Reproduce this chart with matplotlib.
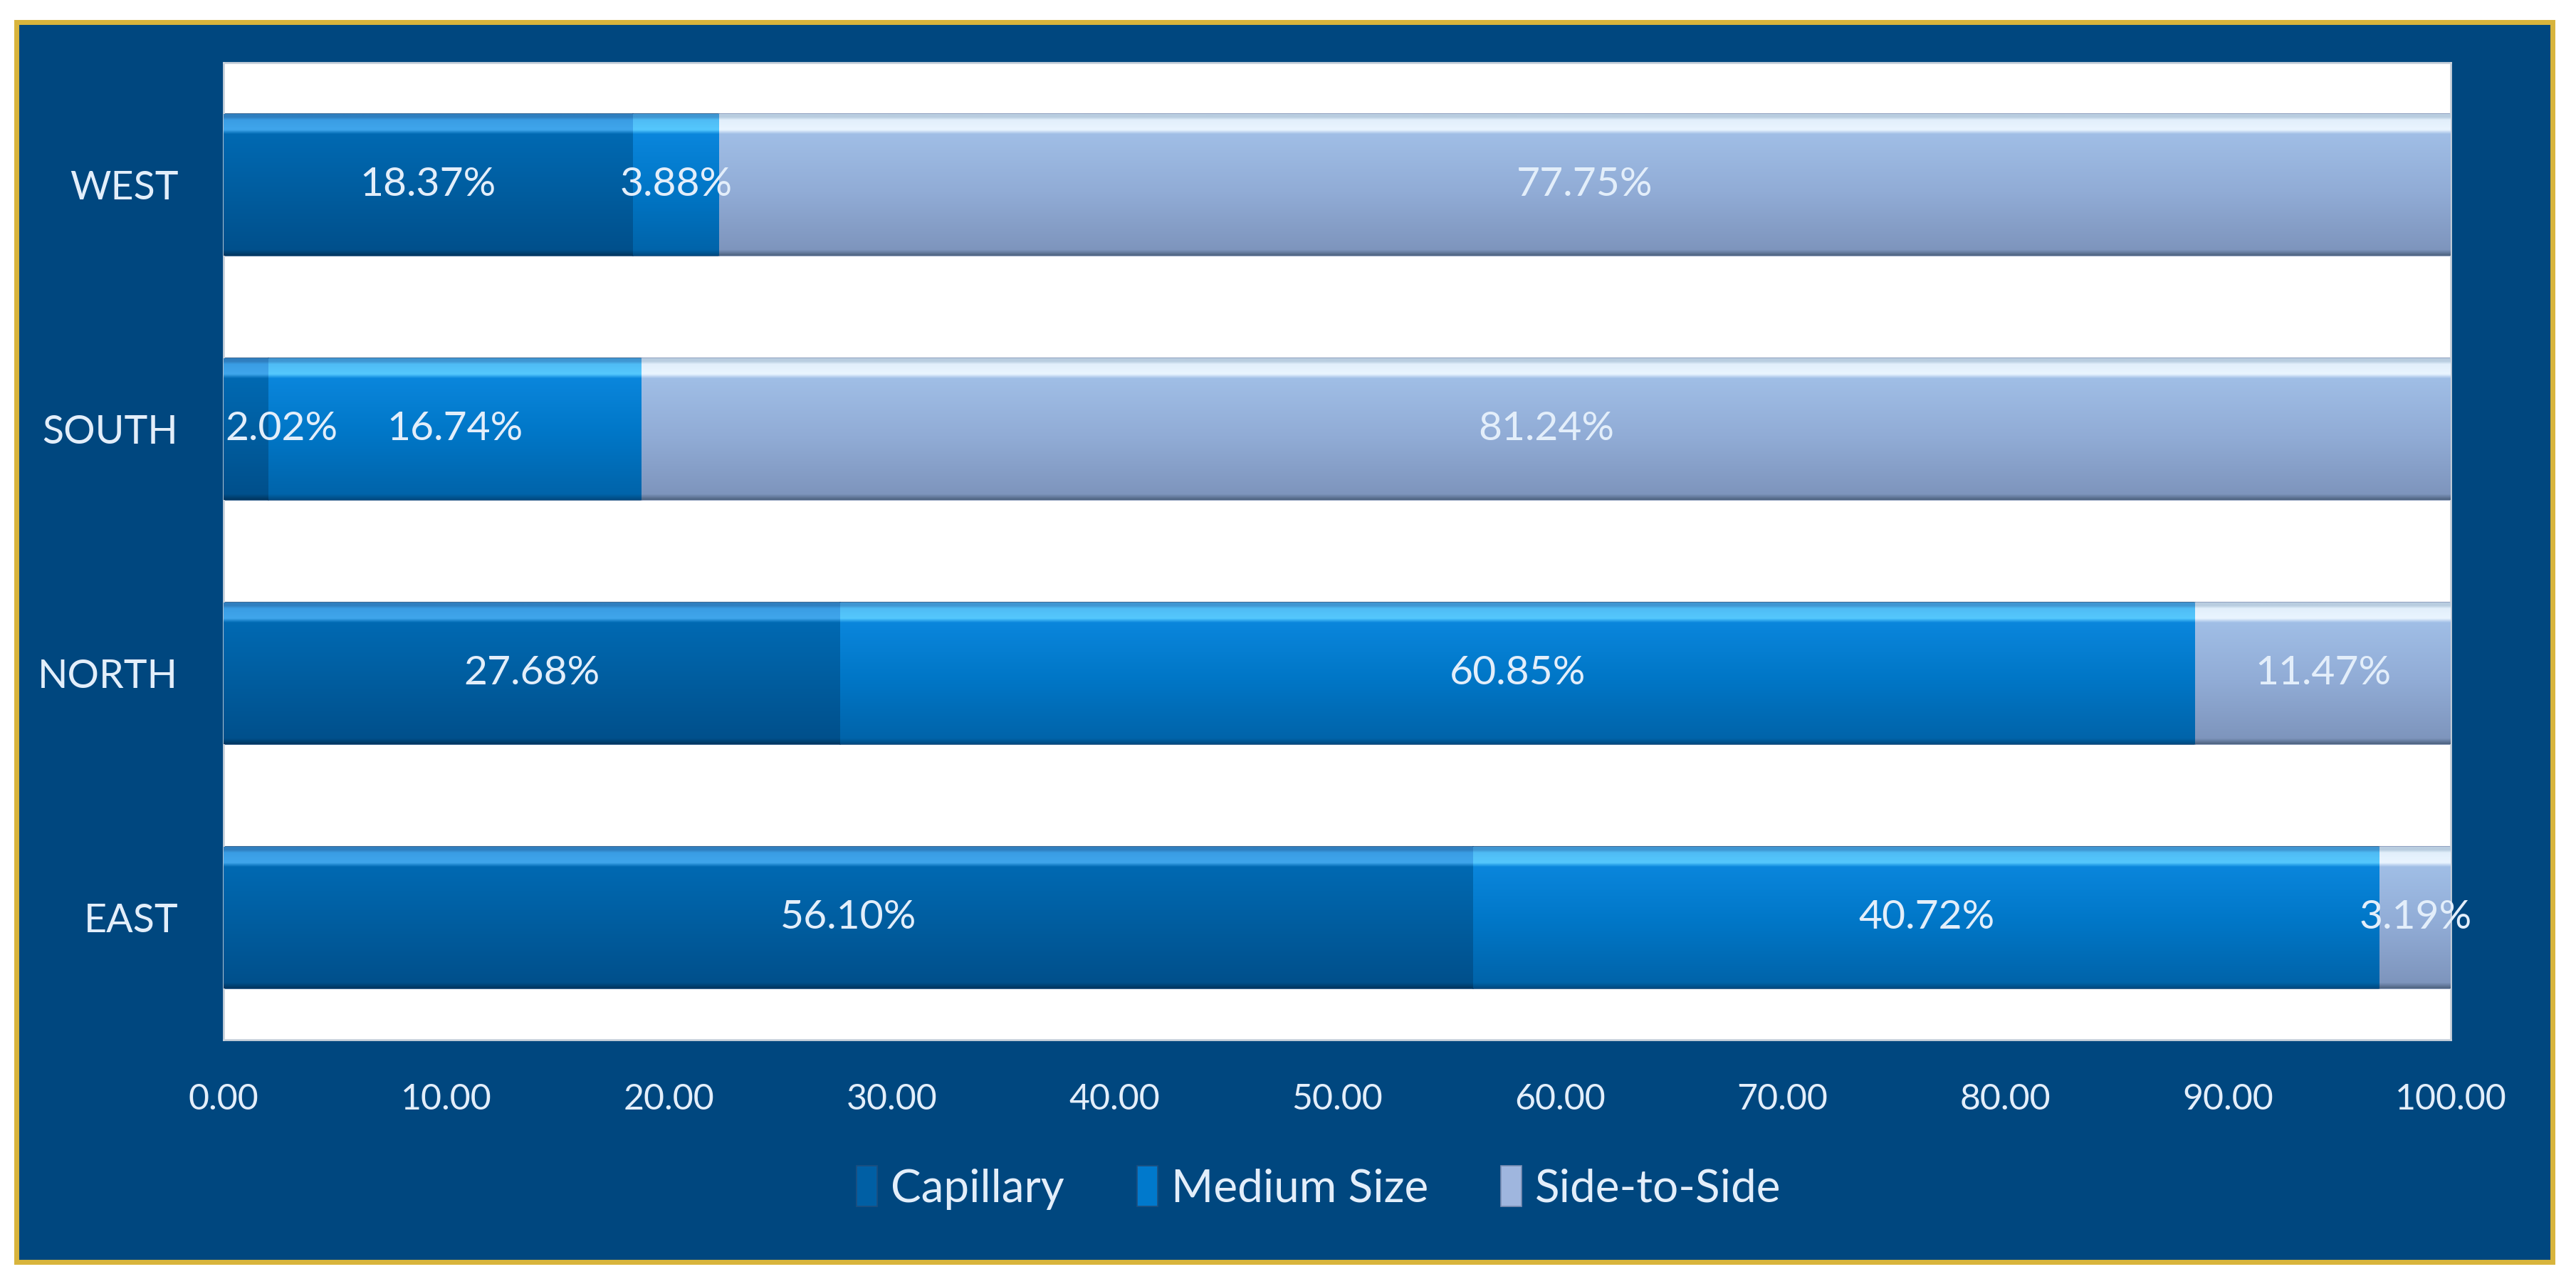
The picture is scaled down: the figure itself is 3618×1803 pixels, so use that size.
import numpy as np
import matplotlib
matplotlib.use('Agg')
import matplotlib.pyplot as plt
from matplotlib.patches import Rectangle
from matplotlib.colors import LinearSegmentedColormap

regions = ['EAST', 'NORTH', 'SOUTH', 'WEST']
capillary = [56.10, 27.68, 2.02, 18.37]
medium = [40.72, 60.85, 16.74, 3.88]
side = [3.19, 11.47, 81.24, 77.75]
series_names = ['Capillary', 'Medium Size', 'Side-to-Side']
xticks = [0, 10, 20, 30, 40, 50, 60, 70, 80, 90, 100]

plt.rcParams['font.family'] = ['Lato', 'DejaVu Sans']

NAVY = '#00477f'
TXT = '#e3eefa'
GOLD = '#d8b43c'

# bottom -> top colour stops for the glossy bars
shades = [
    [(0, '#00365f'), (0.04, '#00508c'), (0.45, '#005d9f'), (0.86, '#0069b2'),
     (0.89, '#40a6ec'), (0.96, '#3a9de4'), (0.98, '#2f7fbf'), (1, '#2f7fbf')],
    [(0, '#004a80'), (0.04, '#0064aa'), (0.45, '#0076c6'), (0.86, '#0a86dc'),
     (0.89, '#55c8fd'), (0.96, '#4fbcf5'), (0.98, '#3f96d2'), (1, '#3f96d2')],
    [(0, '#4e6380'), (0.04, '#7e95bd'), (0.45, '#91acd6'), (0.86, '#a0bee6'),
     (0.89, '#eaf5ff'), (0.96, '#e2effb'), (0.98, '#b9cde0'), (1, '#b9cde0')],
]
base = ['#005fa4', '#0079cc', '#9fb6de']

fig = plt.figure(figsize=(36.18, 18.03), dpi=100)
fig.patch.set_facecolor('white')
fig.patches.append(Rectangle((23 / 3618, 31 / 1803), 3562 / 3618, 1741 / 1803,
                             transform=fig.transFigure, facecolor=NAVY,
                             edgecolor=GOLD, linewidth=5, zorder=-10))

ax = fig.add_axes([0.0868, 0.1902, 0.8645, 0.761])
ax.set_facecolor('white')

y = np.arange(len(regions))
height = 0.58
left = np.zeros(len(regions))
grad = np.linspace(0, 1, 256).reshape(-1, 1)
for k, vals in enumerate([capillary, medium, side]):
    bars = ax.barh(y, vals, height, left=left, color=base[k],
                   edgecolor='#1d4f80' if k < 2 else '#7d90b4', linewidth=1.2,
                   label=series_names[k], zorder=2)
    cmap = LinearSegmentedColormap.from_list('s%d' % k, shades[k])
    for b, v, l in zip(bars, vals, left):
        x0, y0 = b.get_x(), b.get_y()
        im = ax.imshow(grad, cmap=cmap, origin='lower', aspect='auto',
                       extent=(x0, x0 + b.get_width(), y0, y0 + b.get_height()),
                       zorder=3, interpolation='bilinear')
        im.set_clip_path(b)
        cx = max(l + v / 2, 2.6)
        ax.text(cx, b.get_y() + b.get_height() / 2, '%.2f%%' % v, ha='center',
                va='center', color=TXT, fontsize=41, zorder=5)
    left = left + np.array(vals)

ax.set_xlim(0, 100)
ax.set_ylim(-0.5, 3.5)
ax.set_xticks(xticks)
ax.set_xticklabels(['%.2f' % t for t in xticks])
ax.set_yticks(y)
ax.set_yticklabels(regions)
ax.tick_params(axis='x', length=0, pad=44, labelsize=36, labelcolor=TXT)
ax.tick_params(axis='y', length=0, pad=46, labelsize=40, labelcolor=TXT)
for s in ax.spines.values():
    s.set_color('#c9d2dc')
    s.set_linewidth(2)

handles, labels = ax.get_legend_handles_labels()
leg = fig.legend(handles, labels, loc='center', bbox_to_anchor=(0.512, 0.075),
                 ncol=3, frameon=False, fontsize=46, handlelength=0.45,
                 handleheight=1.0, handletextpad=0.3, columnspacing=1.6)
for t in leg.get_texts():
    t.set_color(TXT)

fig.savefig('out.png', dpi=100, facecolor=fig.get_facecolor())
